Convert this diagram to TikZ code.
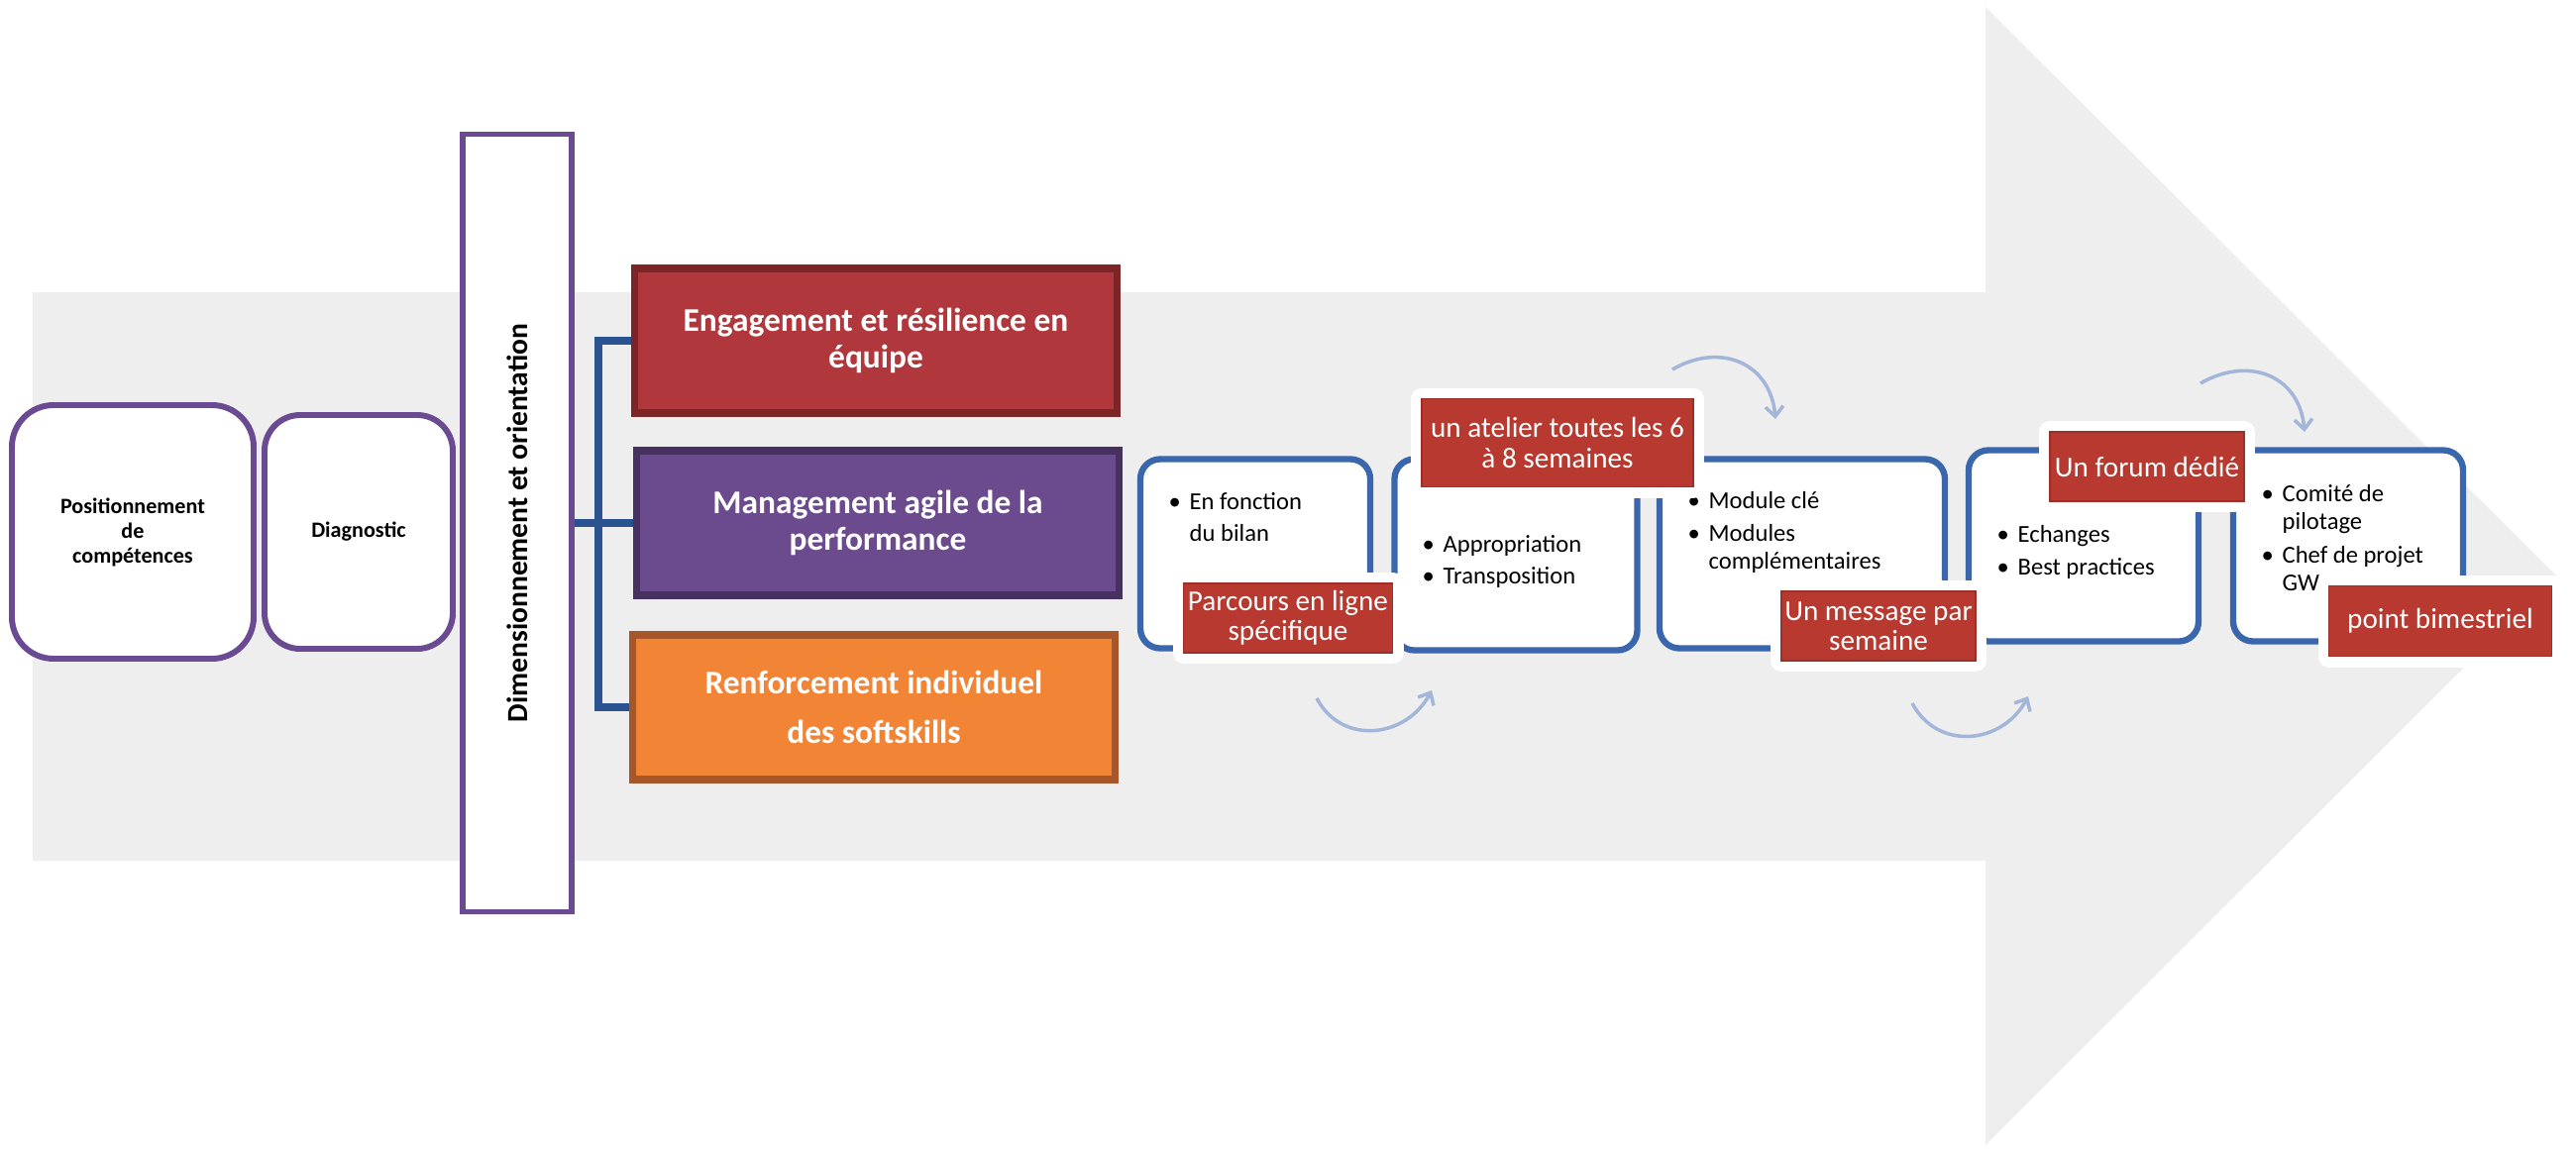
\documentclass[tikz,border=0pt]{standalone}
\usepackage{fontspec}
\setmainfont{Carlito}
\usetikzlibrary{arrows.meta}
\definecolor{fond}{HTML}{EEEEEE}
\definecolor{lila}{HTML}{6A4B92}
\definecolor{rougeb}{HTML}{B0383D}
\definecolor{rougebf}{HTML}{7D2427}
\definecolor{violb}{HTML}{6B4B8E}
\definecolor{violbf}{HTML}{473160}
\definecolor{orangeb}{HTML}{F28436}
\definecolor{orangebf}{HTML}{A65628}
\definecolor{bleu}{HTML}{3A66AD}
\definecolor{lienb}{HTML}{2B5391}
\definecolor{etiqr}{HTML}{B7392F}
\definecolor{flech}{HTML}{A3B6DA}
\newcommand{\puce}{\makebox[0.21cm][l]{\textbullet}}
\newcommand{\suite}{\hspace*{0.21cm}}
\tikzset{
  rond/.style={draw=lila,line width=1.7pt,fill=white,rounded corners=0.42cm,align=center,font=\fontsize{6.3}{7.1}\selectfont\bfseries},
  cadre/.style={draw=lila,line width=1.6pt,fill=white,font=\fontsize{8.4}{10}\selectfont\bfseries},
  bloc/.style={line width=2pt,align=center,text=white,minimum width=4.87cm,minimum height=1.46cm,font=\fontsize{9.5}{10.5}\selectfont\bfseries},
  etape/.style={draw=bleu,line width=1.8pt,fill=white,rounded corners=0.2cm},
  puces/.style={align=left,inner sep=0pt,font=\fontsize{7}{8}\selectfont},
  etiq/.style={fill=etiqr,draw=etiqr!85!black,line width=0.4pt,text=white,align=center,inner sep=0pt,
    font=\fontsize{8.3}{8.6}\selectfont,preaction={draw=white,line width=0.22cm,line join=round}},
  lien/.style={lienb,line width=2pt},
  boucle/.style={-{Straight Barb[length=1mm,width=1.8mm]},flech,line width=1pt},
}
\begin{document}
\begin{tikzpicture}
  \useasboundingbox (0,0) rectangle (26,11.59);
  \fill[fond] (0.33,8.64) -- (20.04,8.64) -- (20.04,11.52) -- (25.80,5.78) -- (20.04,0.03) -- (20.04,2.90) -- (0.33,2.90) -- cycle;

  \node[rond,minimum width=2.44cm,minimum height=2.56cm] (pos) at (1.34,6.22) {Positionnement\\de\\compétences};
  \node[rond,rounded corners=0.36cm,minimum width=1.90cm,minimum height=2.36cm] (diag) at (3.62,6.22) {Diagnostic};
  \node[cadre,rotate=90,minimum width=7.85cm,minimum height=1.10cm] (dim) at (5.22,6.31) {Dimensionnement et orientation};

  \node[bloc,fill=rougeb,draw=rougebf] (eng) at (8.84,8.15) {Engagement et résilience en\\équipe};
  \node[bloc,fill=violb,draw=violbf] (mgmt) at (8.86,6.31) {Management agile de la\\performance};
  \node[bloc,fill=orangeb,draw=orangebf] (renf) at (8.82,4.45) {Renforcement individuel\\[3.6pt]des softskills};
  \draw[lien] (dim.south) -- (mgmt.west);
  \draw[lien] (eng.west) -- ++(-0.33,0) |- (renf.west);

  \node[etape,minimum width=2.32cm,minimum height=1.91cm] (e1) at (12.67,6.00) {};
  \node[etape,minimum width=2.45cm,minimum height=1.93cm] (e2) at (15.30,5.99) {};
  \node[etape,minimum width=2.88cm,minimum height=1.91cm] (e3) at (18.19,6.00) {};
  \node[etape,minimum width=2.32cm,minimum height=1.93cm] (e4) at (21.03,6.08) {};
  \node[etape,minimum width=2.32cm,minimum height=1.93cm] (e5) at (23.70,6.08) {};

  \node[puces,anchor=north west] (t1) at (11.79,6.62) {\puce En fonction\\[1pt]\suite du bilan};
  \node[puces,anchor=north west] (t2) at (14.35,6.19) {\puce Appropriation\\[1pt]\puce Transposition};
  \node[puces,anchor=north west] (t3) at (17.03,6.63) {\puce Module clé\\[1.4pt]\puce Modules\\\suite complémentaires};
  \node[puces,anchor=north west] (t4) at (20.15,6.29) {\puce Echanges\\[1.4pt]\puce Best practices};
  \node[puces,anchor=north west] (t5) at (22.82,6.70) {\puce Comité de\\\suite pilotage\\[1.6pt]\puce Chef de projet\\\suite GW};

  \node[etiq,minimum width=2.11cm,minimum height=0.70cm] (l1) at (13.00,5.35) {Parcours en ligne\\spécifique};
  \node[etiq,minimum width=2.74cm,minimum height=0.89cm] (l2) at (15.72,7.12) {un atelier toutes les 6\\à 8 semaines};
  \node[etiq,minimum width=1.96cm,minimum height=0.70cm] (l3) at (18.96,5.27) {Un message par\\semaine};
  \node[etiq,minimum width=1.96cm,minimum height=0.70cm] (l4) at (21.67,6.88) {Un forum dédié};
  \node[etiq,minimum width=2.25cm,minimum height=0.71cm] (l5) at (24.63,5.32) {point bimestriel};

  \coordinate (d1) at (13.29,4.54);
  \coordinate (f1) at (14.45,4.62);
  \coordinate (d2) at (16.88,7.86);
  \coordinate (f2) at (17.92,7.36);
  \coordinate (d3) at (19.30,4.49);
  \coordinate (f3) at (20.47,4.56);
  \coordinate (d4) at (22.21,7.72);
  \coordinate (f4) at (23.26,7.23);
  \draw[boucle] (d1) to[out=-62,in=-118,looseness=1.2] (f1);
  \draw[boucle] (d2) to[out=30,in=95,looseness=1.25] (f2);
  \draw[boucle] (d3) to[out=-62,in=-118,looseness=1.2] (f3);
  \draw[boucle] (d4) to[out=30,in=95,looseness=1.25] (f4);
\end{tikzpicture}
\end{document}
